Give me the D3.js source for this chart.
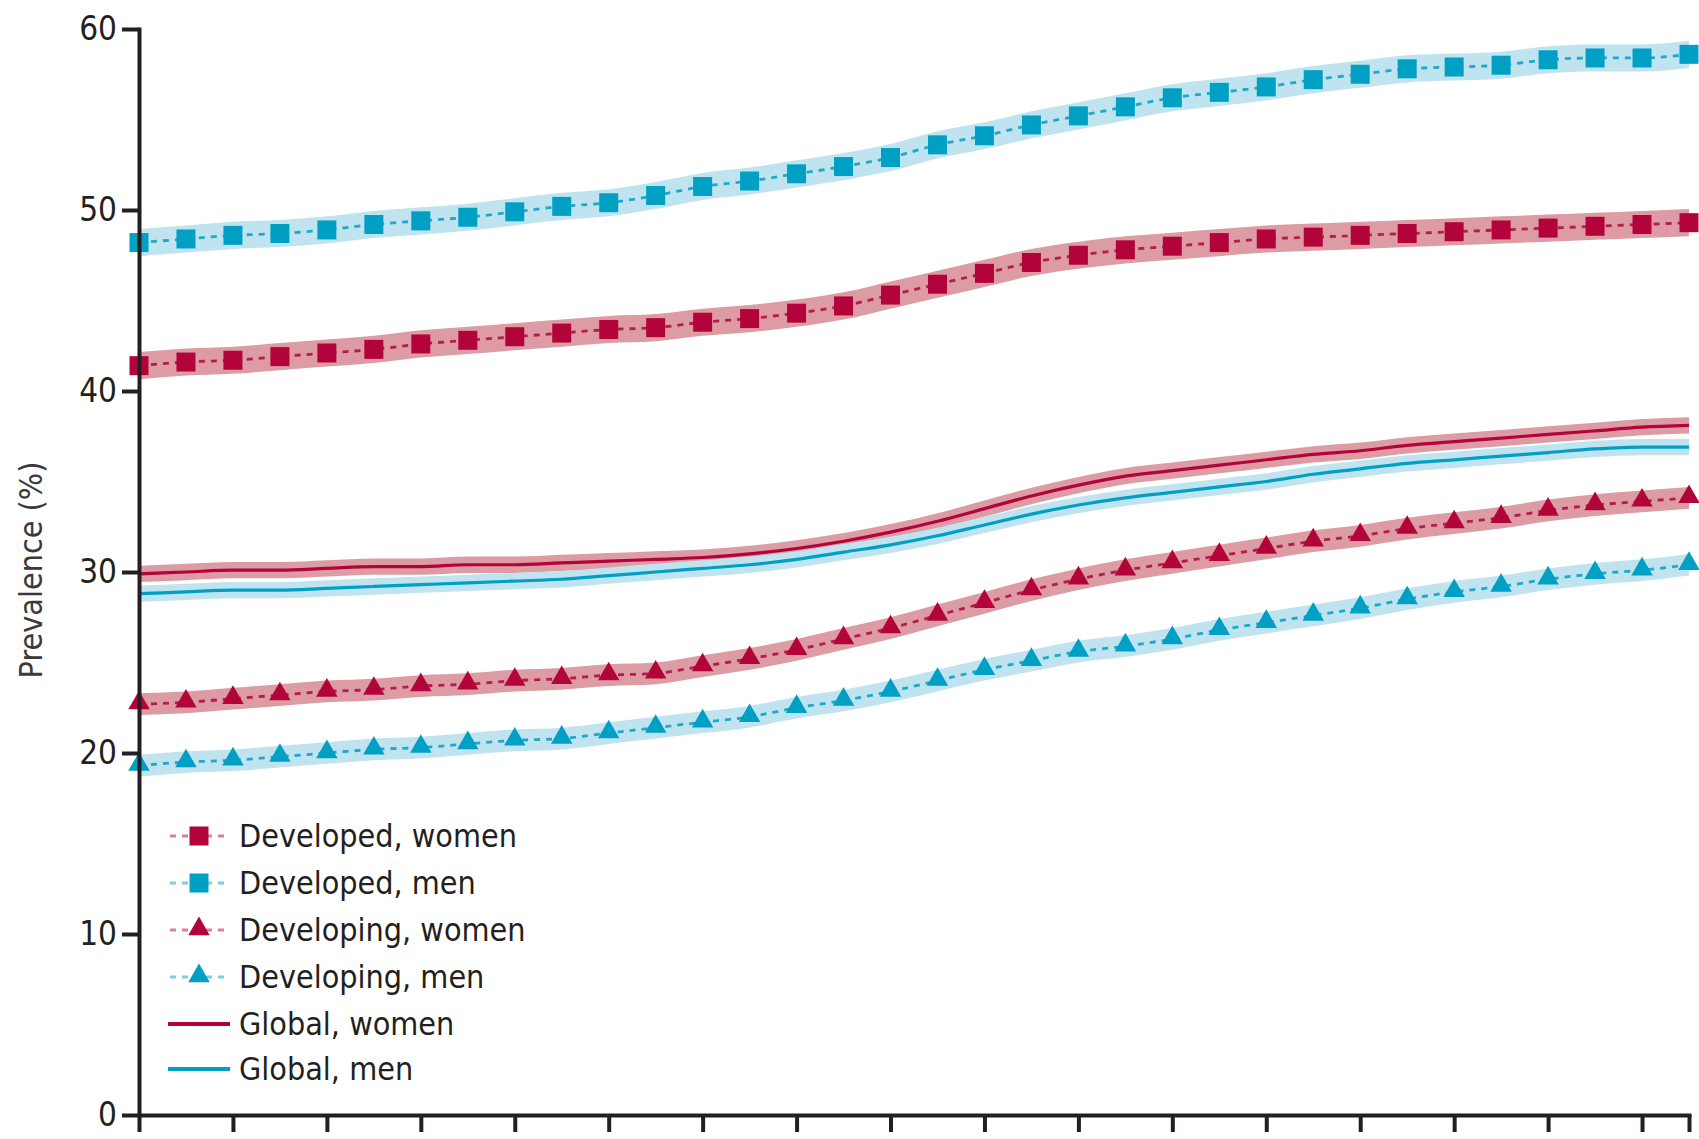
<!DOCTYPE html>
<html>
<head>
<meta charset="utf-8">
<script src="https://cdn.jsdelivr.net/npm/d3@7"></script>
<style>
  html, body { margin: 0; padding: 0; background: #fff; }
  svg { display: block; }
  text { font-family: "Liberation Sans Narrow", "DejaVu Sans Condensed", "Liberation Sans", sans-serif; }
</style>
</head>
<body>
<svg id="chart" width="1699" height="1139"></svg>
<script>
// ---------- DATA ----------
const years = d3.range(1980, 2014);
const xTicks = [1980,1982,1984,1986,1988,1990,1992,1994,1996,1998,2000,2002,2004,2006,2008,2010,2012,2013];
const yTicks = [0,10,20,30,40,50,60];

const developedMen = [48.2,48.4,48.6,48.7,48.9,49.2,49.4,49.6,49.9,50.2,50.4,50.8,51.3,51.6,52.0,52.4,52.9,53.6,54.1,54.7,55.2,55.7,56.2,56.5,56.8,57.2,57.5,57.8,57.9,58.0,58.3,58.4,58.4,58.6];
const developedWomen = [41.4,41.6,41.7,41.9,42.1,42.3,42.6,42.8,43.0,43.2,43.4,43.5,43.8,44.0,44.3,44.7,45.3,45.9,46.5,47.1,47.5,47.8,48.0,48.2,48.4,48.5,48.6,48.7,48.8,48.9,49.0,49.1,49.2,49.3];
const developingWomen = [22.7,22.8,23.0,23.2,23.4,23.5,23.7,23.8,24.0,24.1,24.3,24.4,24.8,25.2,25.7,26.3,26.9,27.6,28.3,29.0,29.6,30.1,30.5,30.9,31.3,31.7,32.0,32.4,32.7,33.0,33.4,33.7,33.9,34.1];
const developingMen = [19.3,19.5,19.6,19.8,20.0,20.2,20.3,20.5,20.7,20.8,21.1,21.4,21.7,22.0,22.5,22.9,23.4,24.0,24.6,25.1,25.6,25.9,26.3,26.8,27.2,27.6,28.0,28.5,28.9,29.2,29.6,29.9,30.1,30.4];
const globalWomen = [29.9,30.0,30.1,30.1,30.2,30.3,30.3,30.4,30.4,30.5,30.6,30.7,30.8,31.0,31.3,31.7,32.2,32.8,33.5,34.2,34.8,35.3,35.6,35.9,36.2,36.5,36.7,37.0,37.2,37.4,37.6,37.8,38.0,38.1];
const globalMen = [28.8,28.9,29.0,29.0,29.1,29.2,29.3,29.4,29.5,29.6,29.8,30.0,30.2,30.4,30.7,31.1,31.5,32.0,32.6,33.2,33.7,34.1,34.4,34.7,35.0,35.4,35.7,36.0,36.2,36.4,36.6,36.8,36.9,36.9];
// uncertainty half-widths (percentage points)
const ciHalf = { developed: 0.75, developing: 0.6, global: 0.45 };

const seriesNames = ["Developed, women","Developed, men","Developing, women","Developing, men","Global, women","Global, men"];

// ---------- STYLE ----------
const RED = "#b2043a", BLUE = "#009fc4";
const RED_BAND = "#dd9ca4", BLUE_BAND = "#c0e4ef";
const FONT_SIZE = 32;

const series = [
  { name: seriesNames[0], values: developedWomen, ci: ciHalf.developed, color: RED, band: RED_BAND, marker: "square" },
  { name: seriesNames[1], values: developedMen, ci: ciHalf.developed, color: BLUE, band: BLUE_BAND, marker: "square" },
  { name: seriesNames[2], values: developingWomen, ci: ciHalf.developing, color: RED, band: RED_BAND, marker: "triangle" },
  { name: seriesNames[3], values: developingMen, ci: ciHalf.developing, color: BLUE, band: BLUE_BAND, marker: "triangle" },
  { name: seriesNames[4], values: globalWomen, ci: ciHalf.global, color: RED, band: RED_BAND, marker: null },
  { name: seriesNames[5], values: globalMen, ci: ciHalf.global, color: BLUE, band: BLUE_BAND, marker: null }
];

const svg = d3.select("#chart");
const x = d3.scaleLinear().domain([1980, 2013]).range([139, 1689]);
const y = d3.scaleLinear().domain([0, 60]).range([1115, 29]);

const area = d3.area().curve(d3.curveMonotoneX)
  .x((d, i) => x(years[i])).y0(d => y(d[0])).y1(d => y(d[1]));
const line = d3.line().curve(d3.curveMonotoneX)
  .x((d, i) => x(years[i])).y(d => y(d));

// bands
const gBands = svg.append("g");
series.forEach(s => {
  gBands.append("path")
    .datum(s.values.map(v => [v - s.ci, v + s.ci]))
    .attr("d", area)
    .attr("fill", s.band)
    .attr("stroke", "none");
});

// lines
const gLines = svg.append("g");
series.forEach(s => {
  gLines.append("path")
    .datum(s.values)
    .attr("d", line)
    .attr("fill", "none")
    .attr("stroke", s.color)
    .attr("stroke-width", s.marker ? 2.8 : 3.2)
    .attr("stroke-dasharray", s.marker ? "6,6" : null)
    .attr("opacity", s.marker ? 0.85 : 1);
});

// markers
const sq = d3.symbol().type(d3.symbolSquare).size(19 * 19);
const tri = d3.symbol().type(d3.symbolTriangle).size(200);
const gMarks = svg.append("g");
series.filter(s => s.marker).forEach(s => {
  gMarks.selectAll(null)
    .data(s.values)
    .enter().append("path")
    .attr("transform", (d, i) => `translate(${x(years[i])},${y(d) + (s.marker === "triangle" ? -1 : 0)})`)
    .attr("d", s.marker === "square" ? sq() : tri())
    .attr("fill", s.color);
});

// axes
const yAxis = d3.axisLeft(y).tickValues(yTicks).tickSize(17).tickSizeOuter(0).tickPadding(5);
const gy = svg.append("g").attr("transform", `translate(${x(1980)},0)`).call(yAxis);
gy.select(".domain").attr("stroke", "#231f20").attr("stroke-width", 4).attr("stroke-linecap", "square");
gy.selectAll(".tick line").attr("stroke", "#231f20").attr("stroke-width", 4);
gy.selectAll(".tick text").attr("font-size", FONT_SIZE + 1).attr("fill", "#231f20")
  .attr("font-family", "'Liberation Sans Narrow', 'DejaVu Sans Condensed', sans-serif");

const xAxis = d3.axisBottom(x).tickValues(xTicks).tickSize(17).tickSizeOuter(0).tickFormat(() => "");
const gx = svg.append("g").attr("transform", `translate(0,${y(0)})`).call(xAxis);
gx.select(".domain").attr("stroke", "#231f20").attr("stroke-width", 4).attr("stroke-linecap", "square");
gx.selectAll(".tick line").attr("stroke", "#231f20").attr("stroke-width", 4);

// y title
svg.append("text")
  .attr("transform", `translate(42,${y(30) - 2}) rotate(-90)`)
  .attr("text-anchor", "middle")
  .attr("font-size", FONT_SIZE)
  .attr("fill", "#3a3a3a")
  .text("Prevalence (%)");

// legend
const legendRows = [836, 883, 930, 977, 1024, 1069];
const gLeg = svg.append("g");
series.forEach((s, i) => {
  const cy = legendRows[i];
  const g = gLeg.append("g");
  if (s.marker) {
    g.append("line").attr("x1", 170).attr("x2", 230).attr("y1", cy).attr("y2", cy)
      .attr("stroke", s.color).attr("stroke-width", 2.8).attr("stroke-dasharray", "6,6")
      .attr("opacity", 0.5);
    g.append("path")
      .attr("transform", `translate(199,${cy + (s.marker === "triangle" ? -1 : 0)})`)
      .attr("d", s.marker === "square" ? sq() : tri())
      .attr("fill", s.color);
  } else {
    g.append("line").attr("x1", 168).attr("x2", 230).attr("y1", cy).attr("y2", cy)
      .attr("stroke", s.color).attr("stroke-width", 4);
  }
  g.append("text").attr("x", 239).attr("y", cy).attr("dy", "0.35em")
    .attr("font-size", FONT_SIZE).attr("fill", "#231f20").text(s.name);
});
</script>
</body>
</html>
